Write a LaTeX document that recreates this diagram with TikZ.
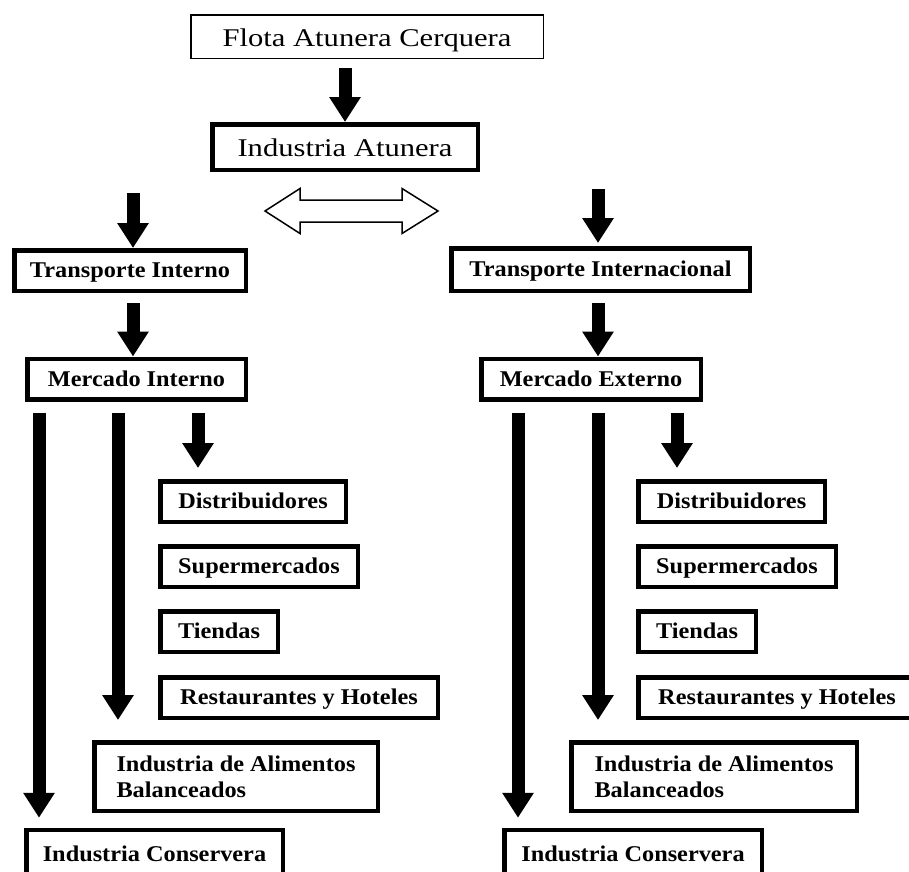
\documentclass[tikz,border=0pt]{standalone}
\usepackage{fontspec}
\setmainfont{Liberation Serif}[FakeStretch=1.08]
\newfontfamily\fuentesup{Liberation Serif}[FakeStretch=1.2]
\usetikzlibrary{arrows.meta}
\begin{document}
\begin{tikzpicture}
    [x=1pt, y=-1pt,
     caja/.style={draw, line width=4.5pt, inner sep=0pt, minimum height=40.5pt,
       text height=16pt, text depth=2pt, font=\fontsize{22.5}{26}\selectfont\bfseries},
     cajasup/.style={caja, text height=19pt, text depth=0pt,
       font=\fuentesup\fontsize{25.5}{30}\selectfont},
     flecha/.style={line width=13pt, -{Triangle[length=25pt,width=30pt]}}]
    \useasboundingbox (0,0) rectangle (909,871);
    \clip (0,0) rectangle (909,871);
    \node[cajasup, line width=1.5pt, minimum width=352.5pt, minimum height=43.5pt] (flota) at (367,36.5)
      {Flota Atunera Cerquera};
    \node[cajasup, minimum width=265.5pt, minimum height=45.5pt] (indus) at (345,147) {Industria Atunera};
    \draw[flecha, shorten <=9pt] (indus.north |- flota.south) -- (indus.north);
    \draw[line width=1.5pt] (265,211) -- (300,188.5) -- (300,200) -- (402,200) -- (402,188.5)
      -- (438,211) -- (402,233.5) -- (402,222) -- (300,222) -- (300,233.5) -- cycle;

    \node[caja, minimum width=231.5pt] (tint) at (130,270.5) {Transporte Interno};
    \node[caja, minimum width=218.5pt] (mint) at (136.5,379) {Mercado Interno};
    \coordinate (ai) at (133,193);
    \draw[flecha] (ai) -- (ai |- tint.north);
    \draw[flecha, shorten <=10pt] (ai |- tint.south) -- (ai |- mint.north);

    \node[caja, minimum width=298.5pt, minimum height=42.5pt] (tinl) at (600.5,269.5) {Transporte Internacional};
    \node[caja, minimum width=219.5pt] (mext) at (591,379) {Mercado Externo};
    \coordinate (ae) at (598,189);
    \draw[flecha, shorten >=3pt] (ae) -- (ae |- tinl.north);
    \draw[flecha, shorten <=10pt] (ae |- tinl.south) -- (ae |- mext.north);

    \node[caja, minimum width=185.5pt] (distI) at (253,501.5) {Distribuidores};
    \node[caja, minimum width=197.5pt] (supI) at (259,566.5) {Supermercados};
    \node[caja, minimum width=117.5pt] (tienI) at (219,631.5) {Tiendas};
    \node[caja, minimum width=277.5pt] (restI) at (299,697.5) {Restaurantes y Hoteles};
    \node[caja, text height={}, text depth={}, minimum width=283.5pt, minimum height=68.5pt, align=left]
      (alimI) at (236,776.5) {Industria de Alimentos\\Balanceados};
    \node[caja, minimum width=256.5pt, minimum height=48pt] (consI) at (154.5,854) {Industria Conservera};
    \coordinate (i1) at (39,0);
    \coordinate (i2) at (118,0);
    \coordinate (i3) at (198,0);
    \draw[flecha, shorten <=11pt, shorten >=10pt] (i1 |- mint.south) -- (i1 |- consI.north);
    \draw[flecha, shorten <=11pt, shorten >=20pt] (i2 |- mint.south) -- (i2 |- alimI.north);
    \draw[flecha, shorten <=11pt, shorten >=11pt] (i3 |- mint.south) -- (i3 |- distI.north);

    \node[caja, minimum width=186.5pt] (distE) at (731.5,501.5) {Distribuidores};
    \node[caja, minimum width=197.5pt] (supE) at (737,566.5) {Supermercados};
    \node[caja, minimum width=117.5pt] (tienE) at (697,631.5) {Tiendas};
    \node[caja, minimum width=277.5pt] (restE) at (777,697.5) {Restaurantes y Hoteles};
    \node[caja, text height={}, text depth={}, minimum width=285.5pt, minimum height=68.5pt, align=left]
      (alimE) at (714,776.5) {Industria de Alimentos\\Balanceados};
    \node[caja, minimum width=257.5pt, minimum height=48pt] (consE) at (633,854) {Industria Conservera};
    \coordinate (e1) at (518,0);
    \coordinate (e2) at (598,0);
    \coordinate (e3) at (677,0);
    \draw[flecha, shorten <=11pt, shorten >=10pt] (e1 |- mext.south) -- (e1 |- consE.north);
    \draw[flecha, shorten <=11pt, shorten >=20pt] (e2 |- mext.south) -- (e2 |- alimE.north);
    \draw[flecha, shorten <=11pt, shorten >=11pt] (e3 |- mext.south) -- (e3 |- distE.north);
  \end{tikzpicture}
\end{document}
